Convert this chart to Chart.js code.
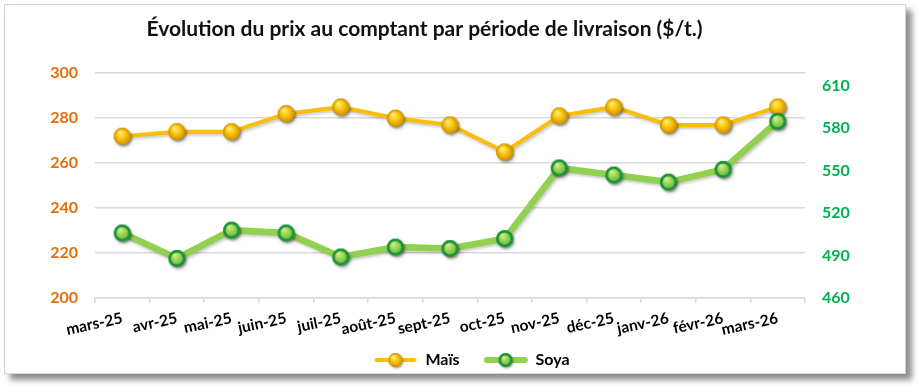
<!DOCTYPE html>
<html lang="fr">
<head>
<meta charset="utf-8">
<script src="https://cdn.jsdelivr.net/npm/chart.js@4.4.1/dist/chart.umd.min.js"></script>
<style>
  html, body { margin: 0; padding: 0; background: #fff; }
  .frame {
    position: absolute; left: 4px; top: 4px; width: 902px; height: 370px;
    background: #fff; border: 1px solid #d4d4d4; box-sizing: border-box;
    box-shadow: 6px 6px 6px rgba(0,0,0,0.45);
  }
  canvas { position: absolute; left: -1px; top: -1px; }
</style>
</head>
<body>
<div class="frame"><canvas id="chart" width="902" height="370"></canvas></div>
<script>
// Données
const periodes = ['mars-25', 'avr-25', 'mai-25', 'juin-25', 'juil-25', 'août-25', 'sept-25',
  'oct-25', 'nov-25', 'déc-25', 'janv-26', 'févr-26', 'mars-26'];
const mais = [272, 274, 274, 282, 285, 280, 277, 265, 281, 285, 277, 277, 285];
const soya = [506, 488, 508, 506, 489, 496, 495, 502, 552, 547, 542, 551, 585];
const ticksMais = [200, 220, 240, 260, 280, 300];
const ticksSoya = [460, 490, 520, 550, 580, 610];

const FONT = 'Lato, "Open Sans", sans-serif';
const MAIS_LINE = '#FCBD06';
const SOYA_LINE = '#92D050';

// petite sphère "3D" pour les marqueurs
function sphere(r, c, withLine) {
  const w = withLine ? 44 : 2 * r + 8;
  const h = 2 * r + 8;
  const cv = document.createElement('canvas');
  cv.width = w; cv.height = h;
  const g = cv.getContext('2d');
  const cx = w / 2, cy = h / 2;
  if (withLine) {
    g.strokeStyle = c.line; g.lineWidth = c.lw; g.lineCap = 'round';
    g.beginPath(); g.moveTo(3, cy); g.lineTo(w - 3, cy); g.stroke();
  }
  g.save();
  g.shadowColor = 'rgba(0,0,0,0.35)'; g.shadowBlur = 2; g.shadowOffsetX = 1; g.shadowOffsetY = 1.5;
  const grd = g.createRadialGradient(cx - r * 0.3, cy - r * 0.45, 0, cx, cy, r);
  grd.addColorStop(0, c.light);
  grd.addColorStop(0.55, c.mid);
  grd.addColorStop(1, c.dark);
  g.fillStyle = grd;
  g.beginPath(); g.arc(cx, cy, r, 0, Math.PI * 2); g.fill();
  g.restore();
  g.strokeStyle = c.border; g.lineWidth = c.bw;
  g.beginPath(); g.arc(cx, cy, r - c.bw / 2, 0, Math.PI * 2); g.stroke();
  return cv;
}

const maisStyle = { light: '#FFF2A0', mid: '#FAC400', dark: '#D08E00', border: '#D39A00', bw: 1, line: MAIS_LINE, lw: 4 };
const soyaStyle = { light: '#D6F494', mid: '#92D050', dark: '#5DAE35', border: '#17913A', bw: 2.5, line: SOYA_LINE, lw: 6 };

const maisPt = sphere(8.5, maisStyle, false);
const soyaPt = sphere(8.5, soyaStyle, false);
const maisLeg = sphere(7, maisStyle, true);
const soyaLeg = sphere(7, soyaStyle, true);

const shadowPlugin = {
  id: 'lineShadow',
  beforeDatasetsDraw(chart) {
    const ctx = chart.ctx;
    ctx.save();
    ctx.shadowColor = 'rgba(0,0,0,0.22)';
    ctx.shadowBlur = 3;
    ctx.shadowOffsetX = 1.5;
    ctx.shadowOffsetY = 2;
  },
  afterDatasetsDraw(chart) { chart.ctx.restore(); }
};

// recale titre et légende comme dans l'original
const boxShift = {
  id: 'boxShift',
  afterLayout(chart) {
    const t = chart.titleBlock, l = chart.legend;
    if (t) { t.left -= 10; t.right -= 10; }
    if (l) { l.left += 37; l.right += 37; l.top -= 18; l.bottom -= 18; }
  }
};

new Chart(document.getElementById('chart'), {
  type: 'line',
  data: {
    labels: periodes,
    datasets: [
      {
        label: 'Maïs',
        data: mais,
        yAxisID: 'y',
        borderColor: MAIS_LINE,
        borderWidth: 4,
        pointStyle: maisPt,
        pointRadius: 8,
        tension: 0,
        order: 2,
      },
      {
        label: 'Soya',
        data: soya,
        yAxisID: 'y1',
        borderColor: SOYA_LINE,
        borderWidth: 6.5,
        pointStyle: soyaPt,
        pointRadius: 8,
        tension: 0,
        order: 1,
      },
    ],
  },
  options: {
    responsive: false,
    animation: false,
    layout: { padding: { left: 0, right: 41, top: 0, bottom: -22 } },
    plugins: {
      title: {
        display: true,
        text: 'Évolution du prix au comptant par période de livraison ($/t.)',
        color: '#111',
        font: { family: FONT, size: 21, weight: 'bold' },
        padding: { top: 13, bottom: 31 },
      },
      legend: {
        position: 'bottom',
        labels: {
          usePointStyle: true,
          pointStyleWidth: 44,
          padding: 24,
          color: '#000',
          font: { family: FONT, size: 16, weight: 'bold' },
          generateLabels(chart) {
            return chart.data.datasets.map((ds, i) => ({
              text: ds.label,
              pointStyle: i === 0 ? maisLeg : soyaLeg,
              datasetIndex: i,
              fontColor: '#000',
              lineWidth: 0,
              strokeStyle: 'transparent',
              fillStyle: 'transparent',
            }));
          },
        },
      },
      tooltip: { enabled: false },
    },
    scales: {
      x: {
        offset: true,
        afterFit(s) { s.height = 48; },
        grid: { display: true, offset: true, drawOnChartArea: false, drawTicks: true, tickLength: 5, color: '#D9D9D9', lineWidth: 1.5 },
        border: { color: '#D9D9D9', width: 1.5 },
        ticks: {
          color: '#000',
          font: { family: FONT, size: 15.5, weight: 'bold' },
          minRotation: 12, maxRotation: 12,
          padding: 6,
          autoSkip: false,
        },
      },
      y: {
        position: 'left',
        min: 200, max: 300,
        afterFit(s) { s.width = 91; },
        afterBuildTicks(s) { s.ticks = ticksMais.map(v => ({ value: v })); },
        grid: { color: '#D9D9D9', lineWidth: 1.5, drawTicks: false },
        border: { display: false },
        ticks: {
          padding: 17,
          color: '#E46C0A',
          font: { family: FONT, size: 16, weight: 'bold' },
        },
      },
      y1: {
        position: 'right',
        min: 460, max: 619,
        afterFit(s) { s.width = 60; },
        afterBuildTicks(s) { s.ticks = ticksSoya.map(v => ({ value: v })); },
        grid: { drawOnChartArea: false, drawTicks: false },
        border: { display: false },
        ticks: {
          padding: 17,
          color: '#00B050',
          font: { family: FONT, size: 16, weight: 'bold' },
        },
      },
    },
  },
  plugins: [shadowPlugin, boxShift],
});
</script>
</body>
</html>
